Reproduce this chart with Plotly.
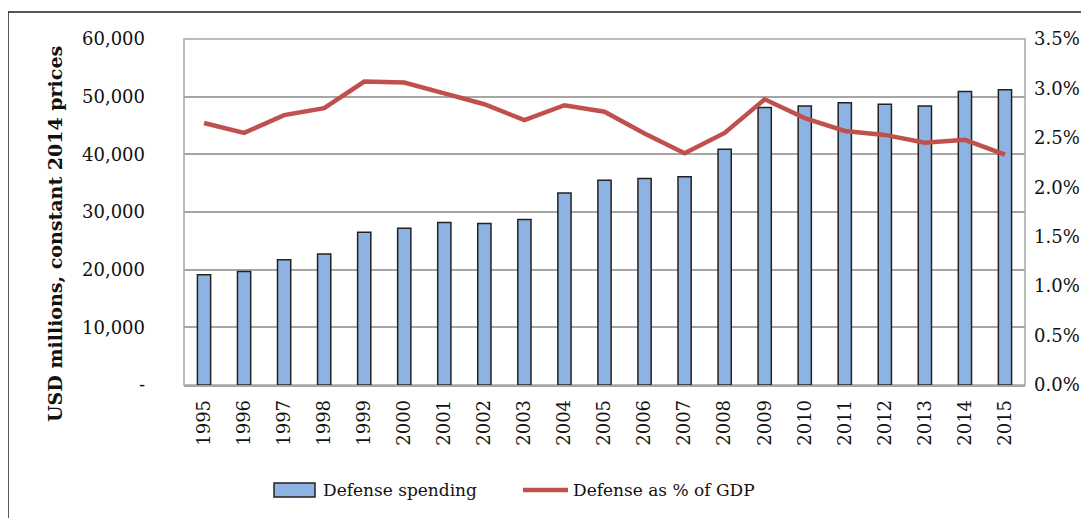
import plotly.graph_objects as go

years = [str(y) for y in range(1995, 2016)]
spending = [19100, 19700, 21700, 22700, 26500, 27200, 28200, 28000, 28700, 33300,
            35500, 35800, 36100, 40900, 48100, 48400, 48950, 48700, 48400, 50900, 51200]
gdp_pct = [2.65, 2.55, 2.73, 2.80, 3.07, 3.06, 2.95, 2.84, 2.68, 2.83,
           2.765, 2.545, 2.345, 2.55, 2.89, 2.70, 2.57, 2.53, 2.45, 2.48, 2.33]
left_ticks = [0, 10000, 20000, 30000, 40000, 50000, 60000]
left_text = ["-", "10,000", "20,000", "30,000", "40,000", "50,000", "60,000"]
right_ticks = [0, 0.5, 1.0, 1.5, 2.0, 2.5, 3.0, 3.5]
right_text = ["0.0%", "0.5%", "1.0%", "1.5%", "2.0%", "2.5%", "3.0%", "3.5%"]

OFF = 8  # page body margin
W, H = 1089 - OFF, 518 - OFF
L, R, T, B = 184, 1025, 39, 385   # in page pixel coordinates
FONT = "DejaVu Serif"

def px(x):
    return (x - L) / (R - L)

def py(y):
    return (B - y) / (B - T)

fig = go.Figure()
fig.add_trace(go.Bar(x=years, y=spending, name="Defense spending", width=0.33,
                     marker=dict(color="#8DB3E2", line=dict(color="#222222", width=1.5)),
                     yaxis="y"))
fig.add_trace(go.Scatter(x=years, y=gdp_pct, name="Defense as % of GDP", mode="lines",
                         line=dict(color="#C0504D", width=4.5), yaxis="y2"))

shapes = [
    dict(type="rect", xref="paper", yref="paper", x0=px(8), x1=px(1100), y0=py(530), y1=py(12),
         line=dict(color="#222222", width=1.5), layer="below"),
    dict(type="rect", xref="paper", yref="paper", x0=0, x1=1, y0=0, y1=1,
         line=dict(color="#A6A6A6", width=1.5), layer="below"),
    dict(type="rect", xref="paper", yref="paper", x0=px(274), x1=px(315), y0=py(497), y1=py(483),
         fillcolor="#8DB3E2", line=dict(color="#222222", width=1.5)),
    dict(type="line", xref="paper", yref="paper", x0=px(523), x1=px(568), y0=py(490), y1=py(490),
         line=dict(color="#C0504D", width=4.5)),
]

annotations = [
    dict(text="<b>USD millions, constant 2014 prices</b>", textangle=-90, xref="paper", yref="paper",
         x=px(55), y=py(234), showarrow=False, font=dict(family=FONT, size=19, color="#111111"),
         xanchor="center", yanchor="middle"),
    dict(text="Defense spending", xref="paper", yref="paper", x=px(321), y=py(490), showarrow=False,
         xanchor="left", yanchor="middle", font=dict(family=FONT, size=17, color="#111111")),
    dict(text="Defense as % of GDP", xref="paper", yref="paper", x=px(571), y=py(490), showarrow=False,
         xanchor="left", yanchor="middle", font=dict(family=FONT, size=17, color="#111111")),
]

fig.update_layout(
    width=W, height=H,
    margin=dict(l=L - OFF, r=(W + OFF) - R, t=T - OFF, b=(H + OFF) - B, pad=0, autoexpand=False),
    paper_bgcolor="white", plot_bgcolor="white",
    showlegend=False,
    font=dict(family=FONT, size=18, color="#111111"),
    xaxis=dict(type="category", tickangle=-90, showgrid=False, showline=True, automargin=False,
               linecolor="#A6A6A6", linewidth=1.5, ticks="", ticklabelstandoff=6,
               tickfont=dict(family=FONT, size=18, color="#111111")),
    yaxis=dict(range=[0, 60000], tickvals=left_ticks, ticktext=left_text, showgrid=True,
               gridcolor="#A6A6A6", gridwidth=1.5, zeroline=False, showline=False, automargin=False,
               ticks="", ticklabelstandoff=38,
               tickfont=dict(family=FONT, size=18, color="#111111")),
    yaxis2=dict(range=[0, 3.5], tickvals=right_ticks, ticktext=right_text, overlaying="y",
                side="right", showgrid=False, zeroline=False, showline=False, ticks="", automargin=False,
                ticklabelstandoff=8, tickfont=dict(family=FONT, size=18, color="#111111")),
    shapes=shapes,
    annotations=annotations,
)

fig.write_html("out.html")
